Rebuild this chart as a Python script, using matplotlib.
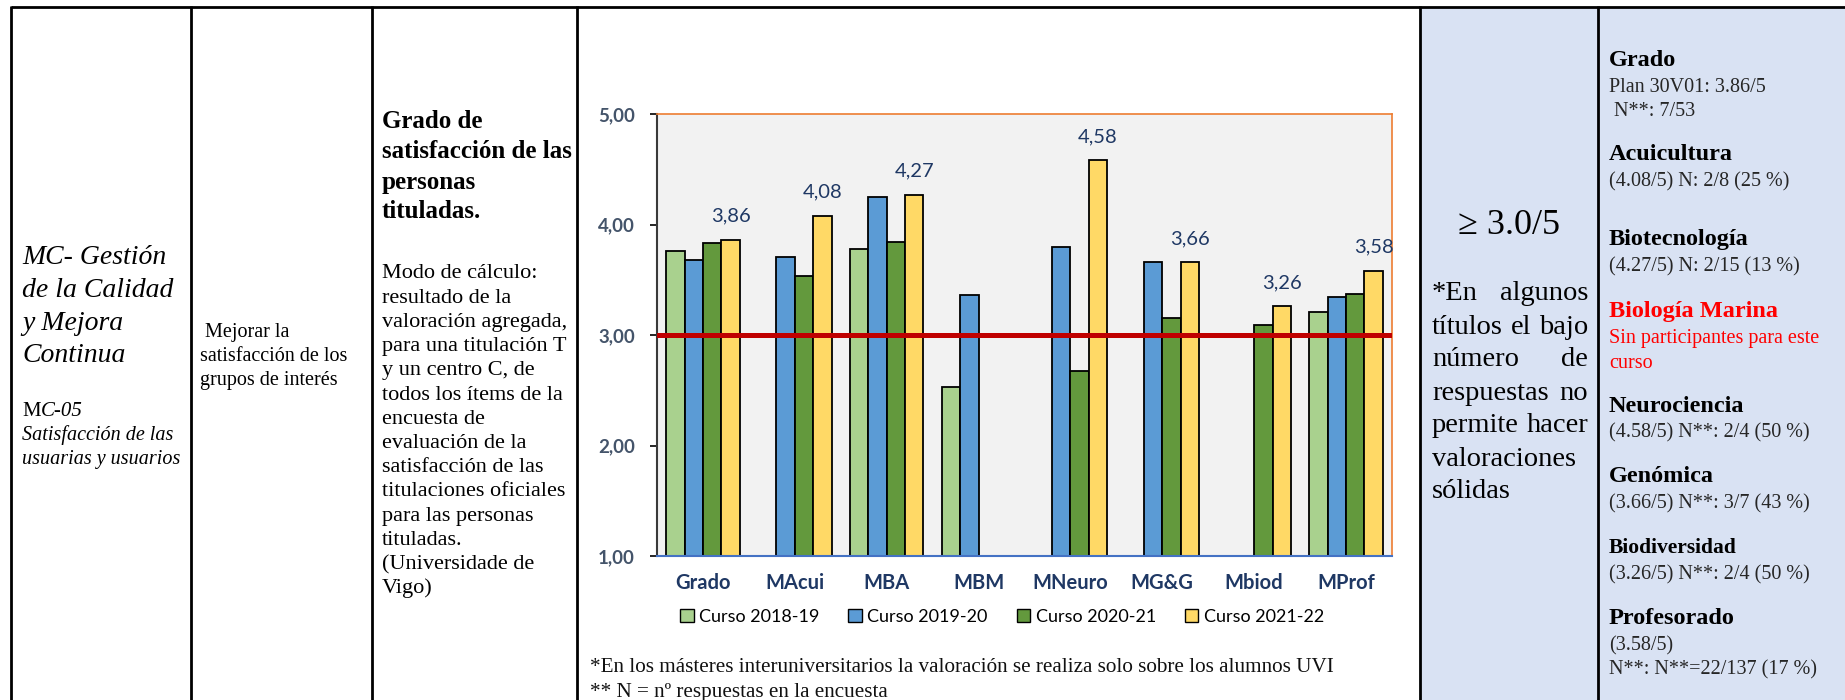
import numpy as np
import matplotlib
matplotlib.use("Agg")
import matplotlib.pyplot as plt
from matplotlib.patches import Rectangle, Patch

############################################################
# 0. Datos del indicador MC-05
############################################################
CATEGORIAS = ["Grado", "MAcui", "MBA", "MBM", "MNeuro", "MG&G", "Mbiod", "MProf"]
CURSOS = ["Curso 2018-19", "Curso 2019-20", "Curso 2020-21", "Curso 2021-22"]
nan = np.nan
curso_2018_19 = [3.76, nan, 3.78, 2.53, nan, nan, nan, 3.21]
curso_2019_20 = [3.68, 3.71, 4.25, 3.36, 3.80, 3.66, nan, 3.34]
curso_2020_21 = [3.83, 3.53, 3.84, nan, 2.67, 3.15, 3.09, 3.37]
curso_2021_22 = [3.86, 4.08, 4.27, nan, 4.58, 3.66, 3.26, 3.58]
META = 3.0
Y_TICKS = [1, 2, 3, 4, 5]

# textos de la tabla
PROCESO = ["MC- Gestión", "de la Calidad", "y Mejora", "Continua"]
PROCESO_SUB = ["Satisfacción de las", "usuarias y usuarios"]
OBJETIVO = [" Mejorar la", "satisfacción de los", "grupos de interés"]
INDICADOR = ["Grado de", "satisfacción de las", "personas", "tituladas."]
CALCULO = ["Modo de cálculo:", "resultado de la", "valoración agregada,",
           "para una titulación T", "y un centro C, de", "todos los ítems de la",
           "encuesta de", "evaluación de la", "satisfacción de las",
           "titulaciones oficiales", "para las personas", "tituladas.",
           "(Universidade de", "Vigo)"]
NOTAS = ["*En los másteres interuniversitarios la valoración se realiza solo sobre los alumnos UVI",
         "** N = nº respuestas en la encuesta"]
META_TXT = "≥ 3.0/5"
META_NOTA = ["*En algunos", "títulos el bajo", "número de", "respuestas no",
             "permite hacer", "valoraciones", "sólidas"]
# (texto, tipo): h = titulación, d = detalle, r = titulación sin datos
RESULTADOS = [
    ("Grado", "h"), ("Plan 30V01: 3.86/5", "d"), (" N**: 7/53", "d"),
    ("Acuicultura", "h"), ("(4.08/5) N: 2/8 (25 %)", "d"),
    ("Biotecnología", "h"), ("(4.27/5) N: 2/15 (13 %)", "d"),
    ("Biología Marina", "rh"), ("Sin participantes para este", "r"), ("curso", "r"),
    ("Neurociencia", "h"), ("(4.58/5) N**: 2/4 (50 %)", "d"),
    ("Genómica", "h"), ("(3.66/5) N**: 3/7 (43 %)", "d"),
    ("Biodiversidad", "hs"), ("(3.26/5) N**: 2/4 (50 %)", "d"),
    ("Profesorado", "h"), ("(3.58/5)", "d"), ("N**: N**=22/137 (17 %)", "d"),
]

COLORES = ["#A9D18E", "#5B9BD5", "#63993D", "#FFD966"]
SERIF = ["Liberation Serif", "DejaVu Serif"]
SANS = ["Lato", "DejaVu Sans"]

############################################################
# 1. Figura y tabla (coordenadas en pixeles)
############################################################
W, H = 1845, 700
fig = plt.figure(figsize=(W / 100, H / 100), dpi=100)
bg = fig.add_axes([0, 0, 1, 1])
bg.set_xlim(0, W)
bg.set_ylim(H, 0)
bg.axis("off")
rend = fig.canvas.get_renderer()

bg.add_patch(Rectangle((1420, 7), W - 1420, H - 7, color="#D9E2F3", zorder=0))
bg.plot([11, W], [7, 7], color="black", lw=2, solid_capstyle="butt")
for xv in [11, 191, 372, 577, 1420, 1598]:
    bg.plot([xv, xv], [6, H], color="black", lw=2, solid_capstyle="butt")


def txt(x, y, s, size, **kw):
    kw.setdefault("family", SERIF)
    kw.setdefault("ha", "left")
    return bg.text(x, y, s, fontsize=size, va="center", **kw)


def ancho(t):
    return t.get_window_extent(renderer=rend).width


# columna 1
for i, s in enumerate(PROCESO):
    txt(22, 258 + 32.5 * i, s, 20, style="italic")
tm = txt(22, 411, "M", 15)
txt(22 + ancho(tm), 411, "C-05", 15, style="italic")
for i, s in enumerate(PROCESO_SUB):
    txt(22, 435 + 24.5 * i, s, 14.5, style="italic")

# columna 2
for i, s in enumerate(OBJETIVO):
    txt(200, 332 + 24.5 * i, s, 14.5)

# columna 3
for i, s in enumerate(INDICADOR):
    txt(382, 122 + 30 * i, s, 18, weight="bold")
for i, s in enumerate(CALCULO):
    txt(382, 274 + 24.2 * i, s, 16)

# columna 5 (meta), texto justificado
txt(1509, 226, META_TXT, 26, ha="center")
x0, x1 = 1432, 1588
for i, s in enumerate(META_NOTA):
    y = 294 + 33 * i
    palabras = s.split()
    if i >= 5 or len(palabras) == 1:
        txt(x0, y, s, 20.5)
        continue
    objs = [txt(x0, y, p, 20.5) for p in palabras]
    anchos = [ancho(o) for o in objs]
    hueco = (x1 - x0 - sum(anchos)) / (len(objs) - 1)
    xp = x0
    for o, a in zip(objs, anchos):
        o.set_x(xp)
        xp += a + hueco

# columna 6 (resultados)
Y_RES = [60, 87, 111, 155, 182, 240, 267, 312, 339, 364,
         407, 433, 477, 504, 548, 575, 618, 646, 670]
for (s, tipo), y in zip(RESULTADOS, Y_RES):
    if tipo == "h":
        txt(1609, y, s, 17.5, weight="bold", color="black")
    elif tipo == "hs":
        txt(1609, y, s, 15.5, weight="bold", color="black")
    elif tipo == "rh":
        txt(1609, y, s, 17.5, weight="bold", color="#FF0000")
    elif tipo == "r":
        txt(1609, y, s, 14.5, color="#FF0000")
    else:
        txt(1609, y, s, 14.5, color="#262626")

# notas al pie del grafico
for i, s in enumerate(NOTAS):
    txt(590, 667 + 25 * i, s, 15.2, color="#111111")

############################################################
# 2. Grafico de barras
############################################################
ax = fig.add_axes([657 / W, 1 - 556 / H, 735 / W, 442 / H])
ax.set_facecolor("#F2F2F2")
x = np.arange(len(CATEGORIAS))
w = 0.2
series = [curso_2018_19, curso_2019_20, curso_2020_21, curso_2021_22]
for i, (vals, col, lab) in enumerate(zip(series, COLORES, CURSOS)):
    ax.bar(x + (i - 1.5) * w, vals, w, color=col, edgecolor="black",
           linewidth=1.3, label=lab, zorder=2)

ax.axhline(META, color="#C00000", lw=3.6, zorder=3)

for xi, v in zip(x, curso_2021_22):
    if np.isnan(v):
        continue
    ax.annotate(f"{v:.2f}".replace(".", ","), (xi + 1.5 * w, v),
                xytext=(0, 17), textcoords="offset points", ha="center",
                va="center", fontsize=14.5, color="#1F3864", family=SANS)

ax.set_xlim(-0.5, len(CATEGORIAS) - 0.5)
ax.set_ylim(1, 5)
ax.set_yticks(Y_TICKS)
ax.set_yticklabels([f"{v:.2f}".replace(".", ",") for v in Y_TICKS],
                   fontweight="bold", family=SANS, fontsize=13.5, color="#44546A")
ax.set_xticks(x)
ax.set_xticklabels(CATEGORIAS, fontweight="bold", family=SANS,
                   fontsize=14.5, color="#1F3864")
ax.tick_params(axis="y", length=5, width=1.2, color="black", pad=11)
ax.tick_params(axis="x", length=0, pad=12)

ax.spines["top"].set_color("#ED7D31")
ax.spines["right"].set_color("#ED7D31")
ax.spines["top"].set_linewidth(1.2)
ax.spines["right"].set_linewidth(1.2)
ax.spines["bottom"].set_color("#4472C4")
ax.spines["bottom"].set_linewidth(1.5)
ax.spines["left"].set_color("#3A3A3A")
ax.spines["left"].set_linewidth(1.5)

handles = [Patch(facecolor=c, edgecolor="black", linewidth=1) for c in COLORES]
fig.legend(handles, CURSOS, loc="center", bbox_to_anchor=(1002 / W, 1 - 617 / H),
           ncol=4, frameon=False, prop={"family": SANS, "size": 13},
           handlelength=0.75, handleheight=0.75, handletextpad=0.3,
           columnspacing=1.6)

fig.savefig("out.png", dpi=100)
